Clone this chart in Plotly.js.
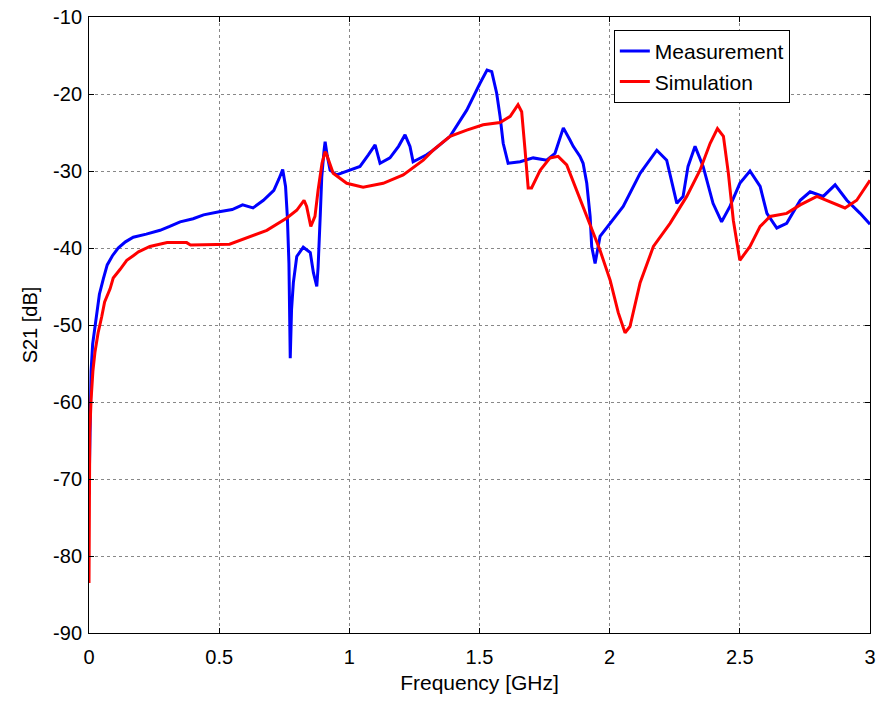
<!DOCTYPE html>
<html>
<head>
<meta charset="utf-8">
<script src="https://cdn.plot.ly/plotly-3.0.1.min.js"></script>
<style>
html,body{margin:0;padding:0;background:#fff;}
#chart{width:883px;height:705px;}
</style>
</head>
<body>
<div id="chart"></div>
<script>
// Measurement
const freqMeas = [0, 0.002, 0.004, 0.008, 0.014, 0.025, 0.04, 0.055, 0.07, 0.09, 0.112, 0.14, 0.17, 0.22, 0.273, 0.31, 0.35, 0.40, 0.44, 0.50, 0.55, 0.59, 0.63, 0.67, 0.71, 0.73, 0.744, 0.755, 0.762, 0.768, 0.773, 0.778, 0.785, 0.798, 0.823, 0.85, 0.862, 0.875, 0.88, 0.888, 0.894, 0.903, 0.907, 0.915, 0.926, 0.951, 1.003, 1.041, 1.073, 1.099, 1.118, 1.156, 1.189, 1.214, 1.233, 1.245, 1.297, 1.322, 1.387, 1.451, 1.502, 1.529, 1.547, 1.566, 1.579, 1.591, 1.61, 1.656, 1.706, 1.758, 1.79, 1.822, 1.848, 1.86, 1.886, 1.898, 1.912, 1.918, 1.925, 1.931, 1.944, 1.963, 2.002, 2.052, 2.117, 2.181, 2.219, 2.258, 2.282, 2.301, 2.328, 2.359, 2.397, 2.43, 2.462, 2.5, 2.539, 2.578, 2.604, 2.642, 2.68, 2.732, 2.77, 2.82, 2.866, 2.911, 2.962, 3.0];
const s21Meas = [-72, -66, -60, -56, -52.5, -49.5, -46, -44, -42.2, -41, -40, -39.2, -38.6, -38.2, -37.7, -37.2, -36.6, -36.2, -35.7, -35.3, -35.0, -34.4, -34.8, -33.8, -32.5, -31, -29.8, -32, -36, -42, -54.3, -48, -44.5, -41.1, -39.9, -40.6, -43.2, -45, -42.5, -36, -30.8, -27.3, -26.2, -28, -29.9, -30.5, -29.9, -29.4, -27.9, -26.6, -29, -28.3, -26.8, -25.3, -26.8, -28.8, -27.9, -27.3, -25.5, -22.1, -18.6, -16.9, -17.1, -19.9, -22.9, -26.4, -29, -28.8, -28.3, -28.6, -27.7, -24.4, -26, -26.8, -28.1, -29, -31.6, -33.8, -35.9, -39.8, -42, -38.5, -36.8, -34.6, -30.3, -27.3, -28.6, -34.2, -33.3, -29.4, -26.8, -29.4, -34.2, -36.6, -34.6, -31.6, -30, -32, -35.5, -37.4, -36.8, -33.8, -32.7, -33.3, -31.8, -33.8, -35.5, -36.9];

// Simulation
const freqSim = [0, 0.001, 0.003, 0.008, 0.015, 0.023, 0.035, 0.049, 0.06, 0.081, 0.093, 0.119, 0.145, 0.17, 0.19, 0.234, 0.30, 0.375, 0.39, 0.54, 0.606, 0.683, 0.76, 0.798, 0.826, 0.836, 0.852, 0.868, 0.88, 0.895, 0.907, 0.911, 0.938, 0.99, 1.053, 1.13, 1.207, 1.284, 1.322, 1.387, 1.451, 1.514, 1.579, 1.618, 1.648, 1.662, 1.675, 1.687, 1.70, 1.733, 1.771, 1.802, 1.835, 1.873, 1.912, 1.963, 2.002, 2.033, 2.059, 2.078, 2.117, 2.168, 2.232, 2.296, 2.347, 2.386, 2.414, 2.437, 2.456, 2.475, 2.5, 2.539, 2.578, 2.616, 2.68, 2.732, 2.796, 2.847, 2.904, 2.949, 3.0];
const s21Sim = [-83.5, -70, -64, -59.7, -56, -53.5, -51, -48.9, -47, -45.3, -43.9, -42.8, -41.6, -41, -40.5, -39.8, -39.3, -39.3, -39.6, -39.5, -38.7, -37.7, -36.1, -35.1, -33.8, -34.6, -37.2, -35.9, -32.5, -29, -27.5, -27.7, -30.3, -31.6, -32.1, -31.6, -30.5, -28.6, -27.3, -25.5, -24.7, -24, -23.7, -22.9, -21.4, -22.3, -27.3, -32.2, -32.2, -29.9, -28.3, -28.1, -29.2, -32.5, -35.9, -40.3, -44.2, -48.4, -51, -50.2, -44.5, -39.8, -36.8, -33.3, -29.9, -26.4, -24.5, -25.5, -30.3, -36.4, -41.6, -39.8, -37.2, -35.9, -35.5, -34.4, -33.3, -34, -34.8, -33.8, -31.2];

const xTicks = [0, 0.5, 1, 1.5, 2, 2.5, 3];
const xTickLabels = ['0', '0.5', '1', '1.5', '2', '2.5', '3'];
const yTicks = [-90, -80, -70, -60, -50, -40, -30, -20, -10];
const yTickLabels = ['-90', '-80', '-70', '-60', '-50', '-40', '-30', '-20', '-10'];

const font = 'Liberation Sans, Arial, sans-serif';

const traces = [
  {x: freqMeas, y: s21Meas, type: 'scatter', mode: 'lines', name: 'Measurement',
   line: {color: '#0000ff', width: 3}},
  {x: freqSim, y: s21Sim, type: 'scatter', mode: 'lines', name: 'Simulation',
   line: {color: '#ff0000', width: 3}}
];

const axisCommon = {
  showline: true, linecolor: '#000', linewidth: 1, mirror: 'ticks',
  ticks: 'inside', ticklen: 5, tickcolor: '#000', tickwidth: 1,
  showgrid: true, gridcolor: '#888', griddash: 'dot', gridwidth: 1,
  zeroline: false, tickfont: {family: font, size: 20, color: '#000'}
};

const layout = {
  width: 883, height: 705,
  margin: {l: 89, r: 13, t: 17, b: 72},
  paper_bgcolor: '#fff', plot_bgcolor: '#fff',
  font: {family: font, color: '#000'},
  showlegend: true,
  legend: {
    x: 0.672, y: 0.979, xanchor: 'left', yanchor: 'top',
    bgcolor: '#fff', bordercolor: '#000', borderwidth: 1,
    font: {family: font, size: 21, color: '#000'},
    tracegroupgap: 0, entrywidth: 190
  },
  xaxis: Object.assign({}, axisCommon, {
    range: [0, 3], tickvals: xTicks, ticktext: xTickLabels, ticklabelstandoff: 6,
    title: {text: 'Frequency [GHz]', font: {family: font, size: 21, color: '#000'}, standoff: 8}
  }),
  yaxis: Object.assign({}, axisCommon, {
    range: [-90, -10], tickvals: yTicks, ticktext: yTickLabels, ticklabelstandoff: 2,
    title: {text: 'S21 [dB]', font: {family: font, size: 20, color: '#000'}, standoff: 10}
  })
};

Plotly.newPlot('chart', traces, layout, {displayModeBar: false, staticPlot: true});
</script>
</body>
</html>
